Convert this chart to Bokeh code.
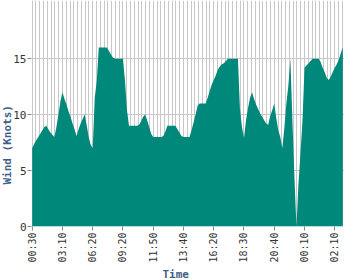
import math
from bokeh.plotting import figure
from bokeh.models import FixedTicker, Range1d, Title
from bokeh.embed import file_html
from bokeh.resources import INLINE

# Wind speed (knots), one reading per category index
wind = [7.0, 7.4, 7.7, 8.0, 8.3, 8.6, 8.9, 9.0, 8.7, 8.4,
        8.2, 8.0, 8.9, 10.0, 11.2, 12.0, 11.4, 10.9, 10.3, 9.8,
        9.2, 8.7, 8.1, 8.7, 9.2, 9.6, 10.0, 9.1, 8.0, 7.3,
        7.0, 11.5, 13.0, 16.0, 16.0, 16.0, 16.0, 16.0, 15.7, 15.4,
        15.1, 15.0, 15.0, 15.0, 15.0, 15.0, 13.0, 10.4, 9.0, 9.0,
        9.0, 9.0, 9.0, 9.1, 9.4, 9.8, 10.0, 9.5, 8.9, 8.3,
        8.0, 8.0, 8.0, 8.0, 8.0, 8.1, 8.5, 9.0, 9.0, 9.0,
        9.0, 9.0, 8.7, 8.4, 8.1, 8.0, 8.0, 8.0, 8.0, 8.6,
        9.3, 10.0, 10.8, 11.0, 11.0, 11.0, 11.0, 11.5, 12.1, 12.7,
        13.1, 13.5, 14.0, 14.3, 14.5, 14.6, 14.8, 15.0, 15.0, 15.0,
        15.0, 15.0, 15.0, 10.5, 8.9, 7.9, 9.5, 10.6, 11.5, 12.0,
        11.4, 10.9, 10.5, 10.1, 9.8, 9.5, 9.2, 9.1, 9.9, 10.4,
        11.0, 9.7, 8.6, 8.0, 7.0, 8.8, 11.0, 12.6, 15.0, 9.5,
        4.5, 0.0, 3.8, 6.5, 9.5, 14.2, 14.4, 14.6, 14.8, 15.0,
        15.0, 15.0, 15.0, 14.7, 14.2, 13.8, 13.3, 13.1, 13.4, 13.8,
        14.2, 14.5, 14.9, 15.5, 16.0]
idx = list(range(len(wind)))

tick_index = [0, 15, 30, 45, 60, 75, 90, 105, 120, 135, 150]
tick_labels = ["00:30", "03:10", "06:20", "09:20", "11:50", "13:40",
               "16:20", "18:30", "20:40", "00:10", "02:10"]
y_ticks = [0, 5, 10, 15]

p = figure(width=350, height=280, output_backend="svg", toolbar_location=None,
           x_range=Range1d(-0.35, 154.83), y_range=Range1d(0, 20.2),
           min_border_left=31, min_border_right=6, min_border_top=0,
           min_border_bottom=52)
p.outline_line_color = None
p.background_fill_color = "white"
p.border_fill_color = "white"

p.varea(x=idx, y1=0, y2=wind, fill_color="#00897b", fill_alpha=1.0)

# grids
p.xgrid.ticker = FixedTicker(ticks=[k * 1.875 for k in range(0, 83)])
p.xgrid.grid_line_color = "#c8c8c8"
p.xgrid.grid_line_width = 1
p.ygrid.ticker = FixedTicker(ticks=y_ticks)
p.ygrid.grid_line_color = "#c8c8c8"
p.ygrid.grid_line_width = 1

# x axis
p.xaxis.ticker = FixedTicker(ticks=tick_index)
p.xaxis.major_label_overrides = {t: l for t, l in zip(tick_index, tick_labels)}
p.xaxis.major_label_orientation = math.pi / 2
p.xaxis.major_label_text_font = "DejaVu Sans Mono"
p.xaxis.major_label_text_font_size = "10px"
p.xaxis.major_label_text_color = "#333333"
p.xaxis.axis_line_color = None
p.xaxis.major_tick_line_color = "#888888"
p.xaxis.major_tick_in = 0
p.xaxis.major_tick_out = 4
p.xaxis.minor_tick_line_color = None
p.xaxis.major_label_standoff = 2

# y axis
p.yaxis.ticker = FixedTicker(ticks=y_ticks)
p.yaxis.major_label_text_font = "DejaVu Sans Mono"
p.yaxis.major_label_text_font_size = "11px"
p.yaxis.major_label_text_color = "#333333"
p.yaxis.axis_line_color = None
p.yaxis.major_tick_line_color = "#888888"
p.yaxis.major_tick_in = 0
p.yaxis.major_tick_out = 4
p.yaxis.minor_tick_line_color = None
p.yaxis.major_label_standoff = 1

title_color = "#3e5f8a"
p.add_layout(Title(text="Time", align="left", offset=131, standoff=0,
                   text_font="DejaVu Sans Mono", text_font_style="bold",
                   text_font_size="11px", text_color=title_color), "below")
p.add_layout(Title(text="Wind (Knots)", align="left", offset=42, standoff=-6,
                   text_font="DejaVu Sans Mono", text_font_style="bold",
                   text_font_size="11px", text_color=title_color), "left")

open("out.html", "w").write(file_html(p, INLINE))
